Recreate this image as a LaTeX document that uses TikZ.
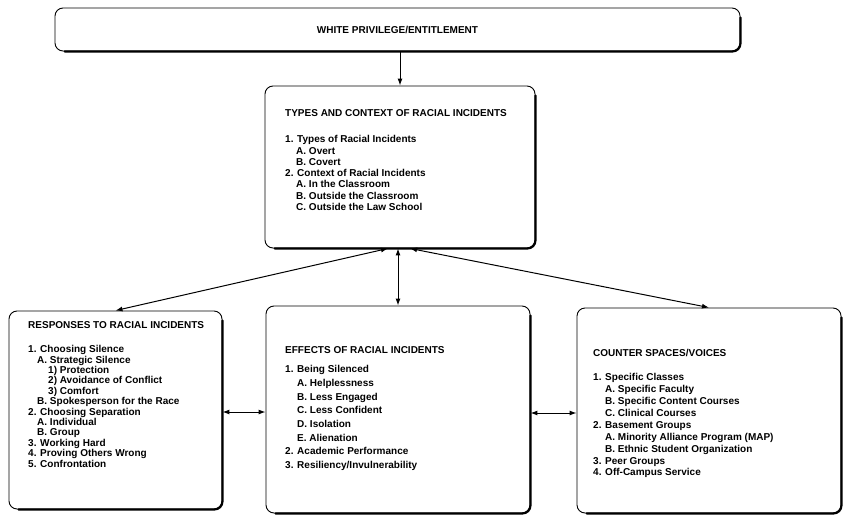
\documentclass[tikz,border=0pt]{standalone}
\usepackage{fontspec}
\setmainfont{Liberation Sans}
\usetikzlibrary{arrows.meta,calc}
\begin{document}
\begin{tikzpicture}[x=1pt,y=-1pt,
  box/.style={draw, line width=0.9pt, rounded corners=8pt, inner sep=0pt},
  edge/.style={line width=2.2pt, rounded corners=8pt, line cap=round},
  ttl/.style={font=\bfseries\fontsize{10}{12}\selectfont, inner sep=0pt, anchor=north west},
  lst/.style={font=\bfseries\fontsize{10}{#1}\selectfont, inner sep=0pt, anchor=north west, align=left},
  lst/.default=11.3,
  tip/.tip={Latex[length=7pt,width=5pt]},
  arr/.style={line width=1pt, -tip},
  arrb/.style={line width=1pt, tip-tip},
]
\useasboundingbox (0,0) rectangle (845,516);

% boxes
\node[box, minimum width=685pt, minimum height=43pt, font=\bfseries\fontsize{10}{12}\selectfont] (top) at (397.5,29.5) {WHITE PRIVILEGE/ENTITLEMENT};
\node[box, minimum width=270pt, minimum height=162pt] (types) at (400,167) {};
\node[box, minimum width=213pt, minimum height=198pt] (resp) at (115.5,410) {};
\node[box, minimum width=264pt, minimum height=207pt] (eff) at (398,409.5) {};
\node[box, minimum width=264pt, minimum height=205pt] (cnt) at (709,410.5) {};

\foreach \n in {top,types,resp,eff,cnt}
  \draw[edge] ($(\n.north east)+(0,10)$) -- (\n.south east) -- ($(\n.south west)+(10,0)$);

% texts: types
\node[ttl] (typesT) at (285,109.3) {TYPES AND CONTEXT OF RACIAL INCIDENTS};
\node[lst=11.3] (typesL) at (285,135.3) {1. Types of Racial Incidents\\
\hspace*{11pt}A. Overt\\
\hspace*{11pt}B. Covert\\
2. Context of Racial Incidents\\
\hspace*{11pt}A. In the Classroom\\
\hspace*{11pt}B. Outside the Classroom\\
\hspace*{11pt}C. Outside the Law School};

% texts: responses
\node[ttl] (respT) at (28,321.3) {RESPONSES TO RACIAL INCIDENTS};
\node[lst=10.4] (respL) at (28,345.3) {1. Choosing Silence\\
\hspace*{9pt}A. Strategic Silence\\
\hspace*{20pt}1) Protection\\
\hspace*{20pt}2) Avoidance of Conflict\\
\hspace*{20pt}3) Comfort\\
\hspace*{9pt}B. Spokesperson for the Race\\
2. Choosing Separation\\
\hspace*{9pt}A. Individual\\
\hspace*{9pt}B. Group\\
3. Working Hard\\
4. Proving Others Wrong\\
5. Confrontation};

% texts: effects
\node[ttl] (effT) at (285,346.3) {EFFECTS OF RACIAL INCIDENTS};
\node[lst=13.7] (effL) at (285,365.3) {1. Being Silenced\\
\hspace*{12pt}A. Helplessness\\
\hspace*{12pt}B. Less Engaged\\
\hspace*{12pt}C. Less Confident\\
\hspace*{12pt}D. Isolation\\
\hspace*{12pt}E. Alienation\\
2. Academic Performance\\
3. Resiliency/Invulnerability};

% texts: counter spaces
\node[ttl] (cntT) at (593,349.3) {COUNTER SPACES/VOICES};
\node[lst=11.9] (cntL) at (593,373.3) {1. Specific Classes\\
\hspace*{12pt}A. Specific Faculty\\
\hspace*{12pt}B. Specific Content Courses\\
\hspace*{12pt}C. Clinical Courses\\
2. Basement Groups\\
\hspace*{12pt}A. Minority Alliance Program (MAP)\\
\hspace*{12pt}B. Ethnic Student Organization\\
3. Peer Groups\\
4. Off-Campus Service};

% connectors
\draw[arr] (top.south -| types.north) -- (types.north);
\coordinate (tsv) at (types.south -| eff.north);
\coordinate (tsl) at ($(types.south)+(-12,0)$);
\coordinate (tsr) at ($(types.south)+(10,0)$);
\coordinate (re) at ($(resp.east)+(0,2)$);
\coordinate (ee) at ($(eff.east)+(0,3.5)$);
\draw[arrb] (tsv) -- (eff.north);
\draw[arrb] (tsl) -- (resp.north);
\draw[arrb] (tsr) -- (cnt.north);
\draw[arrb] (re) -- (re -| eff.west);
\draw[arrb] (ee) -- (ee -| cnt.west);
\end{tikzpicture}
\end{document}
